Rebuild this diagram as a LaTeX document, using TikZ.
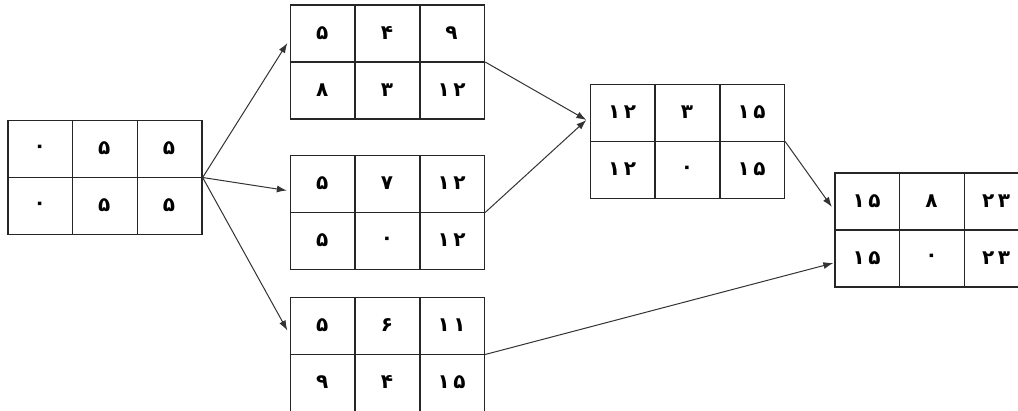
\documentclass[tikz,border=0pt]{standalone}
\usepackage{fontspec}
\usetikzlibrary{calc,arrows.meta}
\newfontfamily\fadigits[Script=Arabic,LetterSpace=18]{DejaVu Sans}

\tikzset{
  gbox/.style={draw=black!85, line width=1.3pt, minimum width=194pt, minimum height=114pt, inner sep=0pt},
  gline/.style={draw=black!85, line width=1.3pt},
  cell/.style={font=\fadigits\bfseries\fontsize{20}{22}\selectfont, inner sep=0pt},
  link/.style={draw=black!80, line width=1pt, -{Latex[length=10pt,width=7pt]}},
}

% a 2x3 table: name, centre, top row (left to right), bottom row (left to right)
\newcommand\gridbox[8]{%
  \node[gbox] (#1) at #2 {};
  \draw[gline] (#1.west) -- (#1.east);
  \draw[gline] ($(#1.north west)!1/3!(#1.north east)$) -- ($(#1.south west)!1/3!(#1.south east)$);
  \draw[gline] ($(#1.north west)!2/3!(#1.north east)$) -- ($(#1.south west)!2/3!(#1.south east)$);
  \node[cell] (#1-a) at ($(#1.north west)+(32.33,-28.5)$) {#3};
  \node[cell] (#1-b) at ($(#1.north west)+(97,-28.5)$) {#4};
  \node[cell] (#1-c) at ($(#1.north west)+(161.67,-28.5)$) {#5};
  \node[cell] (#1-d) at ($(#1.north west)+(32.33,-85.5)$) {#6};
  \node[cell] (#1-e) at ($(#1.north west)+(97,-85.5)$) {#7};
  \node[cell] (#1-f) at ($(#1.north west)+(161.67,-85.5)$) {#8};
}

\begin{document}
\begin{tikzpicture}[x=1pt,y=1pt]
  \useasboundingbox[fill=white] (0,0) rectangle (1018,410);

  \gridbox{A}{(105,232.5)}{۰}{۵}{۵}{۰}{۵}{۵}
  \gridbox{B}{(387.5,348)}{۵}{۴}{۹}{۸}{۳}{۱۲}
  \gridbox{C}{(387.5,197.5)}{۵}{۷}{۱۲}{۵}{۰}{۱۲}
  \gridbox{D}{(387.5,55.5)}{۵}{۶}{۱۱}{۹}{۴}{۱۵}
  \gridbox{E}{(687.5,268.5)}{۱۲}{۳}{۱۵}{۱۲}{۰}{۱۵}
  \gridbox{F}{(932,180)}{۱۵}{۸}{۲۳}{۱۵}{۰}{۲۳}

  \draw[link] (A.east) -- ($(B.west)+(-2.5,19)$);
  \draw[link] (A.east) -- ($(C.west)+(-3,22)$);
  \draw[link] (A.east) -- ($(D.west)+(-2.5,24)$);
  \draw[link] (B.east) -- ($(E.west)+(-3.5,21.5)$);
  \draw[link] (C.east) -- ($(E.west)+(-3.5,21.5)$);
  \draw[link] (E.east) -- ($(F.west)+(-2.5,23)$);
  \draw[link] (D.east) -- ($(F.west)+(-1,-33)$);
\end{tikzpicture}
\end{document}
